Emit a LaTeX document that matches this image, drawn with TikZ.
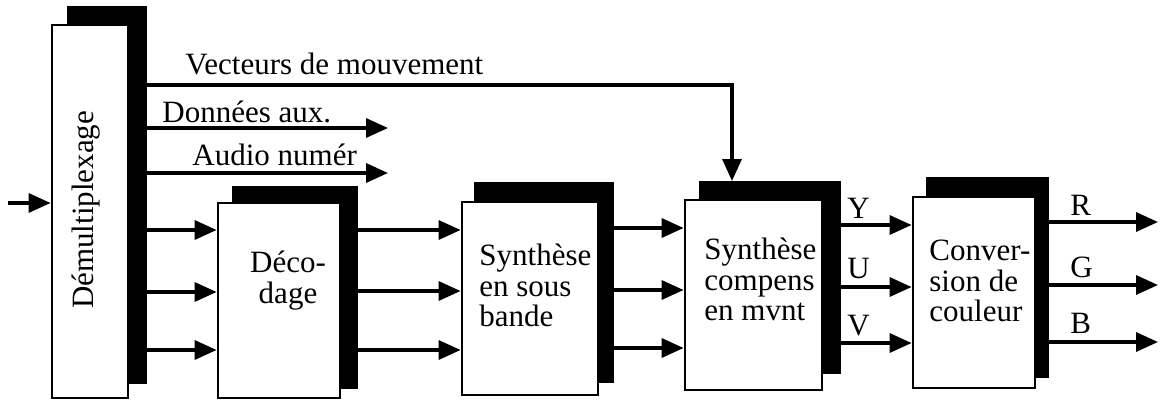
\documentclass[tikz,border=0pt]{standalone}
\usepackage{fontspec}
\setmainfont{Liberation Serif}
\usetikzlibrary{arrows.meta,fit,calc}
\begin{document}
\begin{tikzpicture}[x=0.5pt,y=-0.5pt,
  shad/.style={fill=black,draw=black,line width=1pt,inner sep=0pt},
  front/.style={fill=white,draw=black,line width=1.4pt,inner sep=0pt},
  arr/.style={line width=1.7pt,-{Triangle[length=11pt,width=9.5pt]}},
  lbl/.style={inner sep=0pt,font=\fontsize{15.5}{15.5}\selectfont},
  btxt/.style={inner sep=0pt,font=\fontsize{15.5}{15.2}\selectfont}]
\useasboundingbox (0,0) rectangle (1161,401);
% blocks
\node[shad, fit={(68,7)(146,383)}] (dmxs) {};
\node[front, fit={(52,25)(128,398)}] (dmx) {};
\node[shad, fit={(233,187)(357,388)}] (decs) {};
\node[front, fit={(218,203)(340,398)}] (dec) {};
\node[shad, fit={(475,183)(613,382)}] (ssbs) {};
\node[front, fit={(462,202)(598,395)}] (ssb) {};
\node[shad, fit={(700,182)(840,373)}] (cmps) {};
\node[front, fit={(685,200)(822,390)}] (cmp) {};
\node[shad, fit={(927,178)(1048,377)}] (cnvs) {};
\node[front, fit={(913,197)(1035,388)}] (cnv) {};
% block texts
\node[btxt, rotate=90] (tdmx) at (86,210) {Démultiplexage};
\node[btxt, align=center, anchor=north] (tdec) at (288,251) {Déco-\\dage};
\node[btxt, align=left, anchor=north west] (tssb) at (479,244) {Synthèse\\en sous\\bande};
\node[btxt, align=left, anchor=north west] (tcmp) at (704,238) {Synthèse\\compens\\en mvnt};
\node[btxt, align=left, anchor=north west] (tcnv) at (929,240) {Conver-\\sion de\\couleur};
% input
\coordinate (in) at (8,203);
\draw[arr] (in) -- (dmx.west |- in);
% top outputs of demux
\coordinate (vk) at (732,85);
\draw[arr] (dmxs.east |- vk) -- (vk) -- (cmps.north -| vk);
\node[lbl, anchor=base west] (lv) at (185,75) {Vecteurs de mouvement};
\coordinate (da) at (388,128);
\draw[arr] (dmxs.east |- da) -- (da);
\node[lbl, anchor=base west] (ld) at (162,122) {Données aux.};
\coordinate (au) at (388,173);
\draw[arr] (dmxs.east |- au) -- (au);
\node[lbl, anchor=base west] (la) at (192,165) {Audio numér};
% demux -> decodage
\foreach \yy in {230,292,350} {
  \draw[arr] (dmxs.east |- 0,\yy) -- (dec.west |- 0,\yy);
}
% decodage -> sous bande
\foreach \yy in {230,291,350} {
  \draw[arr] (decs.east |- 0,\yy) -- (ssb.west |- 0,\yy);
}
% sous bande -> compens
\foreach \yy in {228,290,348} {
  \draw[arr] (ssbs.east |- 0,\yy) -- (cmp.west |- 0,\yy);
}
% compens -> conversion (Y U V)
\draw[arr] (cmps.east |- 0,225) -- (cnv.west |- 0,225);
\draw[arr] (cmps.east |- 0,287) -- (cnv.west |- 0,287);
\draw[arr] (cmps.east |- 0,343) -- (cnv.west |- 0,343);
\node[lbl, anchor=base west] (ly) at (847,218) {Y};
\node[lbl, anchor=base west] (lu) at (847,278) {U};
\node[lbl, anchor=base west] (lvv) at (847,335) {V};
% outputs R G B
\coordinate (or) at (1158,222);
\coordinate (og) at (1158,285);
\coordinate (ob) at (1158,342);
\draw[arr] (cnvs.east |- or) -- (or);
\draw[arr] (cnvs.east |- og) -- (og);
\draw[arr] (cnvs.east |- ob) -- (ob);
\node[lbl, anchor=base west] (lr) at (1070,215) {R};
\node[lbl, anchor=base west] (lg) at (1070,277) {G};
\node[lbl, anchor=base west] (lb) at (1070,333) {B};
\end{tikzpicture}
\end{document}
